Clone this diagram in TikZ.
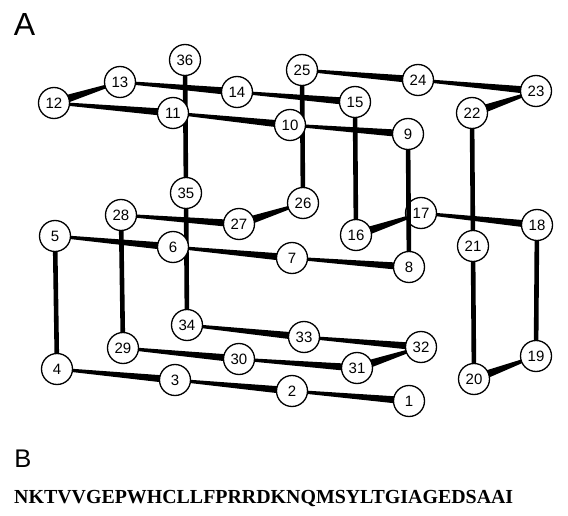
\documentclass[tikz,border=0pt]{standalone}
\usepackage{fontspec}
\setmainfont{Liberation Serif}
\setsansfont{Liberation Sans}
\usetikzlibrary{calc,backgrounds}
\tikzset{
  res/.style={circle, draw, line width=1.3pt, fill=white, minimum size=31pt,
    inner sep=0pt, font=\sffamily\fontsize{15}{15}\selectfont},
  panel/.style={inner sep=0pt, font=\sffamily\fontsize{#1}{#1}\selectfont},
  vbond/.style={line width=4.6pt},
}
% tapered bond: half-width #3 at node #1, half-width #4 at node #2
\newcommand\wbond[4]{%
  \fill ($(#1)!#3!90:(#2)$) -- ($(#1)!#3!-90:(#2)$)
     -- ($(#2)!#4!90:(#1)$) -- ($(#2)!#4!-90:(#1)$) -- cycle;}
% left-to-right bond: thin on the left, thick on the right
\newcommand\hbond[2]{\wbond{#1}{#2}{1.3pt}{3.8pt}}
% depth bond: thick at the near (lower-left) end
\newcommand\dbond[2]{\wbond{#1}{#2}{4.6pt}{1.0pt}}
\begin{document}
\begin{tikzpicture}[x=1pt,y=-1pt]
\useasboundingbox (0,0) rectangle (568,516);

\node[panel=32] (labA) at (24.5,24.5) {A};

% residues
\node[res] (n1)  at (409,401) {1};
\node[res] (n2)  at (292,391) {2};
\node[res] (n3)  at (175,380) {3};
\node[res] (n4)  at (57,369)  {4};
\node[res] (n5)  at (55,236)  {5};
\node[res] (n6)  at (173,247) {6};
\node[res] (n7)  at (292,258) {7};
\node[res] (n8)  at (409,267) {8};
\node[res] (n9)  at (408,134) {9};
\node[res] (n10) at (290,125) {10};
\node[res] (n11) at (173,113) {11};
\node[res] (n12) at (54,103)  {12};
\node[res] (n13) at (120,82)  {13};
\node[res] (n14) at (237,92)  {14};
\node[res] (n15) at (355,102) {15};
\node[res] (n16) at (356,235) {16};
\node[res] (n17) at (421,213) {17};
\node[res] (n18) at (537,225) {18};
\node[res] (n19) at (536,356) {19};
\node[res] (n20) at (474,379) {20};
\node[res] (n21) at (473,246) {21};
\node[res] (n22) at (472,113) {22};
\node[res] (n23) at (536,91)  {23};
\node[res] (n24) at (418,80)  {24};
\node[res] (n25) at (302,70)  {25};
\node[res] (n26) at (303,203) {26};
\node[res] (n27) at (239,224) {27};
\node[res] (n28) at (121,215) {28};
\node[res] (n29) at (123,348) {29};
\node[res] (n30) at (239,359) {30};
\node[res] (n31) at (357,368) {31};
\node[res] (n32) at (421,347) {32};
\node[res] (n33) at (304,337) {33};
\node[res] (n34) at (187,325) {34};
\node[res] (n35) at (186,193) {35};
\node[res] (n36) at (185,60)  {36};

% backbone
\begin{scope}[on background layer]
  \hbond{n2}{n1}
  \hbond{n3}{n2}
  \hbond{n4}{n3}
  \draw[vbond] (n4) -- (n5);
  \hbond{n5}{n6}
  \hbond{n6}{n7}
  \hbond{n7}{n8}
  \hbond{n10}{n9}
  \hbond{n11}{n10}
  \hbond{n12}{n11}
  \dbond{n12}{n13}
  \hbond{n13}{n14}
  \hbond{n14}{n15}
  \draw[vbond] (n15) -- (n16);
  \dbond{n16}{n17}
  \hbond{n17}{n18}
  \draw[vbond] (n18) -- (n19);
  \dbond{n20}{n19}
  \draw[vbond] (n20) -- (n21);
  \draw[vbond] (n21) -- (n22);
  \dbond{n22}{n23}
  \hbond{n24}{n23}
  \hbond{n25}{n24}
  \draw[vbond] (n25) -- (n26);
  \dbond{n27}{n26}
  \hbond{n28}{n27}
  \draw[vbond] (n28) -- (n29);
  \hbond{n29}{n30}
  \hbond{n30}{n31}
  \dbond{n31}{n32}
  \hbond{n33}{n32}
  \hbond{n34}{n33}
  \draw[vbond] (n34) -- (n35);
  \draw[vbond] (n35) -- (n36);
\end{scope}
% bond 8-9 runs in front of residue 17
\draw[vbond] (n9) -- (n8);

\node[panel=25.5] (labB) at (23,459) {B};
\node[anchor=base west, inner sep=0pt,
      font=\bfseries\fontsize{19.9}{20}\selectfont] (seq) at (14,503)
  {NKTVVGEPWHCLLFPRRDKNQMSYLTGIAGEDSAAI};
\end{tikzpicture}
\end{document}
